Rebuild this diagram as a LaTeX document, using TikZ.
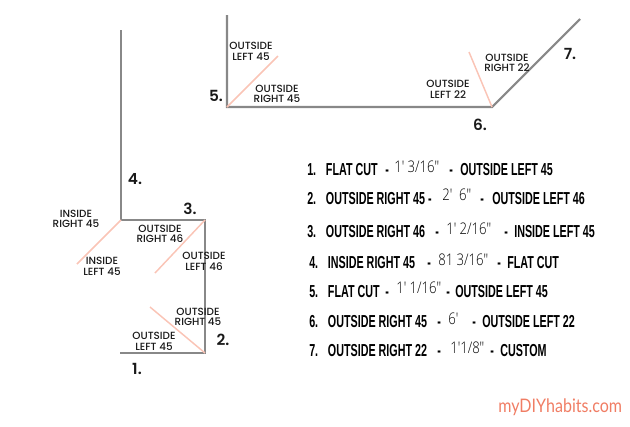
\documentclass[tikz,border=0pt]{standalone}
\usepackage{fontspec}
\setmainfont{Poppins}
\newfontfamily\labelfont{Poppins Medium}
\newfontfamily\numfont{Poppins SemiBold}
\newfontfamily\listfont[FakeStretch=0.62]{Liberation Sans Bold}
\newfontfamily\handfont[FakeStretch=0.82]{Open Sans Light}
\newfontfamily\markfont[FakeStretch=0.86]{Lato}
\definecolor{trimgray}{RGB}{136,136,136}
\definecolor{cutpink}{RGB}{250,196,182}
\definecolor{markpink}{RGB}{240,125,100}
\def\numgap{\ \ \hspace{2.8pt}}
\tikzset{
	trim/.style={draw=trimgray, line width=1.6pt},
	cutline/.style={draw=cutpink, line width=1.1pt},
	cutlabel/.style={inner sep=0pt, align=center, font=\fontsize{7.8}{8}\labelfont, text=black!90},
	piecenum/.style={inner sep=0pt, font=\fontsize{11.5}{12}\numfont, text=black!90},
	listitem/.style={inner sep=0pt, anchor=west, text height=9.3pt, text depth=0pt, font=\fontsize{13}{13}\listfont, text=black},
	listhand/.style={inner sep=0pt, anchor=west, font=\fontsize{12}{12}\handfont, text=black}
}
\begin{document}
\begin{tikzpicture}[x=0.75pt, y=-0.75pt]
	\useasboundingbox (0,0) rectangle (630,426);

	% Left run of trim
	\coordinate (lstart) at (120,353);
	\coordinate (lcornera) at (205,353);
	\coordinate (lcornerb) at (205,220);
	\coordinate (lcornerc) at (121,220);
	\coordinate (lend) at (121,30);
	\draw[trim] (lstart) -- (lcornera) -- (lcornerb) -- (lcornerc) -- (lend);
	\coordinate (lcuta) at (150,307);
	\coordinate (lcutb) at (155,273);
	\coordinate (lcutc) at (77,264);
	\draw[cutline] (lcornera) -- (lcuta);
	\draw[cutline] (lcornerb) -- (lcutb);
	\draw[cutline] (lcornerc) -- (lcutc);

	% Top run of trim
	\coordinate (tstart) at (227,15);
	\coordinate (tcornera) at (227,107);
	\coordinate (tcornerb) at (492,107);
	\coordinate (tend) at (580,19);
	\draw[trim] (tstart) -- (tcornera) -- (tcornerb) -- (tend);
	\coordinate (tcuta) at (278,56);
	\coordinate (tcutb) at (469,52);
	\draw[cutline] (tcornera) -- (tcuta);
	\draw[cutline] (tcornerb) -- (tcutb);

	% Labels at the cuts
	\node[cutlabel] (labela) at (154,341) {OUTSIDE\\LEFT 45};
	\node[cutlabel] (labelb) at (198,317) {OUTSIDE\\RIGHT 45};
	\node[cutlabel] (labelc) at (204,261) {OUTSIDE\\LEFT 46};
	\node[cutlabel] (labeld) at (160,234) {OUTSIDE\\RIGHT 46};
	\node[cutlabel] (labele) at (102,266) {INSIDE\\LEFT 45};
	\node[cutlabel] (labelf) at (76,219) {INSIDE\\RIGHT 45};
	\node[cutlabel] (labelg) at (251,51) {OUTSIDE\\LEFT 45};
	\node[cutlabel] (labelh) at (277,94) {OUTSIDE\\RIGHT 45};
	\node[cutlabel] (labeli) at (448,89) {OUTSIDE\\LEFT 22};
	\node[cutlabel] (labelj) at (507,63) {OUTSIDE\\RIGHT 22};

	% Piece numbers
	\node[piecenum] (numa) at (137,369) {1.};
	\node[piecenum] (numb) at (223,340) {2.};
	\node[piecenum] (numc) at (190,209) {3.};
	\node[piecenum] (numd) at (135,179) {4.};
	\node[piecenum] (nume) at (216,96) {5.};
	\node[piecenum] (numf) at (480,125) {6.};
	\node[piecenum] (numg) at (570,54) {7.};

	% Cut list
	\node[listitem] (rowaa) at (307,169) {1.\numgap FLAT CUT};
	\node[listitem] (rowab) at (385,169) {-};
	\node[listhand] (rowac) at (394,167) {1' 3/16"};
	\node[listitem] (rowad) at (449,169) {-};
	\node[listitem] (rowae) at (460,169) {OUTSIDE LEFT 45};

	\node[listitem] (rowba) at (307,198) {2.\numgap OUTSIDE RIGHT 45 -};
	\node[listhand] (rowbb) at (442,195) {2'\ \ 6"};
	\node[listitem] (rowbc) at (480,198) {-};
	\node[listitem] (rowbd) at (492,198) {OUTSIDE LEFT 46};

	\node[listitem] (rowca) at (307,231) {3.\numgap OUTSIDE RIGHT 46};
	\node[listitem] (rowcb) at (435,231) {-};
	\node[listhand] (rowcc) at (446,229) {1' 2/16"};
	\node[listitem] (rowcd) at (504,231) {-};
	\node[listitem] (rowce) at (514,231) {INSIDE LEFT 45};

	\node[listitem] (rowda) at (309,262) {4.\numgap INSIDE RIGHT 45};
	\node[listitem] (rowdb) at (427,262) {-};
	\node[listhand] (rowdc) at (438,260) {81 3/16"};
	\node[listitem] (rowdd) at (497,262) {-};
	\node[listitem] (rowde) at (507,262) {FLAT CUT};

	\node[listitem] (rowea) at (309,291) {5.\numgap FLAT CUT};
	\node[listitem] (roweb) at (385,291) {-};
	\node[listhand] (rowec) at (396,288) {1' 1/16"};
	\node[listitem] (rowed) at (446,291) {-};
	\node[listitem] (rowee) at (455,291) {OUTSIDE LEFT 45};

	\node[listitem] (rowfa) at (309,321) {6.\numgap OUTSIDE RIGHT 45};
	\node[listitem] (rowfb) at (437,321) {-};
	\node[listhand] (rowfc) at (448,319) {6'};
	\node[listitem] (rowfd) at (472,321) {-};
	\node[listitem] (rowfe) at (482,321) {OUTSIDE LEFT 22};

	\node[listitem] (rowga) at (309,350) {7.\numgap OUTSIDE RIGHT 22};
	\node[listitem] (rowgb) at (437,350) {-};
	\node[listhand] (rowgc) at (450,348) {1'1/8"};
	\node[listitem] (rowgd) at (490,350) {-};
	\node[listitem] (rowge) at (500,350) {CUSTOM};

	% Site name
	\node[inner sep=0pt, anchor=west, text=markpink, font=\fontsize{14}{14}\markfont] (sitename) at (498,407) {myDIYhabits.com};
\end{tikzpicture}
\end{document}
